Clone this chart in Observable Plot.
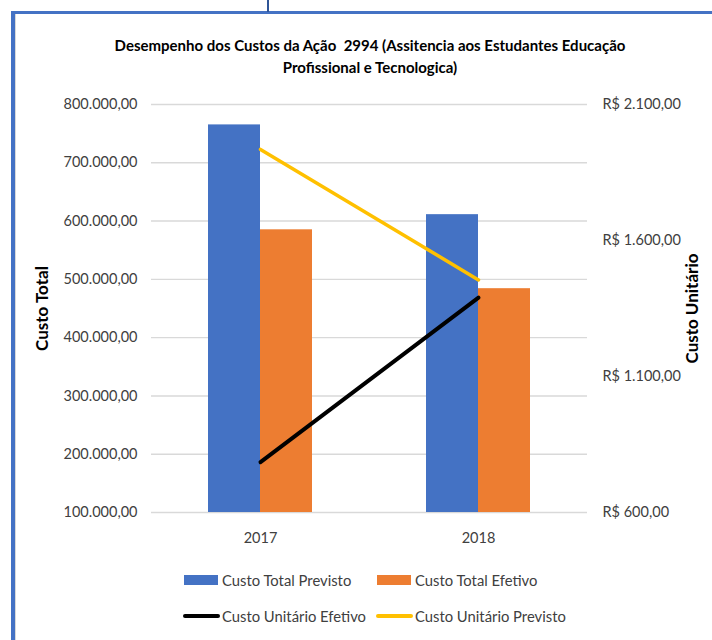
<!DOCTYPE html>
<html>
<head>
<meta charset="utf-8">
<script src="https://cdn.jsdelivr.net/npm/d3@7"></script>
<script src="https://cdn.jsdelivr.net/npm/@observablehq/plot@0.6"></script>
<style>
  body { margin: 0; background: #fff; }
  #wrap { position: relative; width: 712px; height: 640px; overflow: hidden; font-family: Lato, "Open Sans", sans-serif; background: #fff; }
  .frameL { position: absolute; left: 11px; top: 11px; width: 4px; height: 640px; background: #4472C4; }
  .frameL2 { position: absolute; left: 15px; top: 14px; width: 1px; height: 640px; background: #d9d9d9; }
  .frameT { position: absolute; left: 11px; top: 11px; width: 701px; height: 3px; background: #4472C4; }
  .connector { position: absolute; left: 267px; top: 0; width: 2px; height: 12px; background: #2F5597; }
  #title { position: absolute; left: 0; top: 34px; width: 740px; text-align: center; font-weight: bold; font-size: 15px; line-height: 22px; color: #000; white-space: pre; }
  #chart { position: absolute; left: 0; top: 90px; }
  .leg { position: absolute; font-size: 14.8px; color: #404040; line-height: 18px; white-space: nowrap; }
  .sw { position: absolute; }
</style>
</head>
<body>
<div id="wrap">
  <div class="frameT"></div>
  <div class="frameL"></div>
  <div class="frameL2"></div>
  <div class="connector"></div>
  <div id="title"></div>
  <div id="chart"></div>
  <div id="legend"></div>
</div>
<script>
// ---- data ----
const titleLines = ["Desempenho dos Custos da Ação  2994 (Assitencia aos Estudantes Educação", "Profissional e Tecnologica)"];
const years = ["2017", "2018"];
const custoTotalPrevisto = [765000, 611000];
const custoTotalEfetivo = [585000, 484000];
const custoUnitarioPrevisto = [1935, 1455];
const custoUnitarioEfetivo = [785, 1390];
const leftTicks = [100000, 200000, 300000, 400000, 500000, 600000, 700000, 800000];
const rightTicks = [600, 1100, 1600, 2100];
const leftDomain = [100000, 800000];
const rightDomain = [600, 2100];
const leftLabel = "Custo Total";
const rightLabel = "Custo Unitário";
const seriesNames = ["Custo Total Previsto", "Custo Total Efetivo", "Custo Unitário Efetivo", "Custo Unitário Previsto"];
const seriesColors = ["#4472C4", "#ED7D31", "#000000", "#FFC000"];
const seriesKinds = ["bar", "bar", "line", "line"];

// ---- helpers ----
const locale = d3.formatLocale({decimal: ",", thousands: ".", grouping: [3], currency: ["R$ ", ""]});
const fmt = locale.format(",.2f");
const toLeft = d3.scaleLinear(rightDomain, leftDomain);

const rows = years.map((y, i) => ({
  year: y,
  prev: custoTotalPrevisto[i],
  efet: custoTotalEfetivo[i],
  uPrev: custoUnitarioPrevisto[i],
  uEfet: custoUnitarioEfetivo[i]
}));

document.getElementById("title").textContent = titleLines.join("\n");

const chart = Plot.plot({
  width: 712,
  height: 470,
  marginTop: 14,
  marginBottom: 48,
  marginLeft: 151,
  marginRight: 125,
  style: {fontFamily: "Lato, 'Open Sans', sans-serif", fontSize: "14.5px", color: "#404040", background: "transparent"},
  x: {domain: years, paddingInner: 0.523, paddingOuter: 0.2615, align: 0.5},
  y: {domain: leftDomain},
  marks: [
    Plot.gridY(leftTicks, {stroke: "#D9D9D9", strokeOpacity: 1, strokeWidth: 1.4}),
    Plot.barY(rows, {x: "year", y1: leftDomain[0], y2: "prev", fill: seriesColors[0], insetRight: 52, insetLeft: 0}),
    Plot.barY(rows, {x: "year", y1: leftDomain[0], y2: "efet", fill: seriesColors[1], insetLeft: 52, insetRight: 0}),
    Plot.lineY(rows, {x: "year", y: d => toLeft(d.uPrev), stroke: seriesColors[3], strokeWidth: 3.5, strokeLinecap: "round"}),
    Plot.lineY(rows, {x: "year", y: d => toLeft(d.uEfet), stroke: seriesColors[2], strokeWidth: 4, strokeLinecap: "round"}),
    Plot.axisY(leftTicks, {anchor: "left", tickFormat: fmt, tickSize: 0, tickPadding: 14, label: null}),
    Plot.axisY(rightTicks.map(toLeft), {anchor: "right", tickFormat: d => "R$ " + fmt(Math.round(toLeft.invert(d))), tickSize: 0, tickPadding: 15, label: null}),
    Plot.axisX({tickSize: 0, tickPadding: 20, label: null}),
    Plot.text([leftLabel], {text: d => d, frameAnchor: "left", textAnchor: "middle", dx: -109, rotate: -90, fontWeight: "bold", fontSize: 17, fill: "#000"}),
    Plot.text([rightLabel], {text: d => d, frameAnchor: "right", textAnchor: "middle", dx: 105, rotate: -90, fontWeight: "bold", fontSize: 17, fill: "#000"})
  ]
});
document.getElementById("chart").appendChild(chart);

// ---- legend ----
const legend = document.getElementById("legend");
const colX = [184, 377];
const rowY = [580, 616];
seriesNames.forEach((name, i) => {
  const row = i < 2 ? 0 : 1;
  const col = i % 2;
  const sw = document.createElement("div");
  sw.className = "sw";
  if (seriesKinds[i] === "bar") {
    Object.assign(sw.style, {left: colX[col] + "px", top: (rowY[row] - 5) + "px", width: "34px", height: "10px", background: seriesColors[i]});
  } else {
    Object.assign(sw.style, {left: (colX[col] - 1) + "px", top: (rowY[row] - 2) + "px", width: "37px", height: "4px", background: seriesColors[i], borderRadius: "2px"});
  }
  legend.appendChild(sw);
  const t = document.createElement("div");
  t.className = "leg";
  t.textContent = name;
  Object.assign(t.style, {left: (colX[col] + 38) + "px", top: (rowY[row] - 9) + "px"});
  legend.appendChild(t);
});
</script>
</body>
</html>
